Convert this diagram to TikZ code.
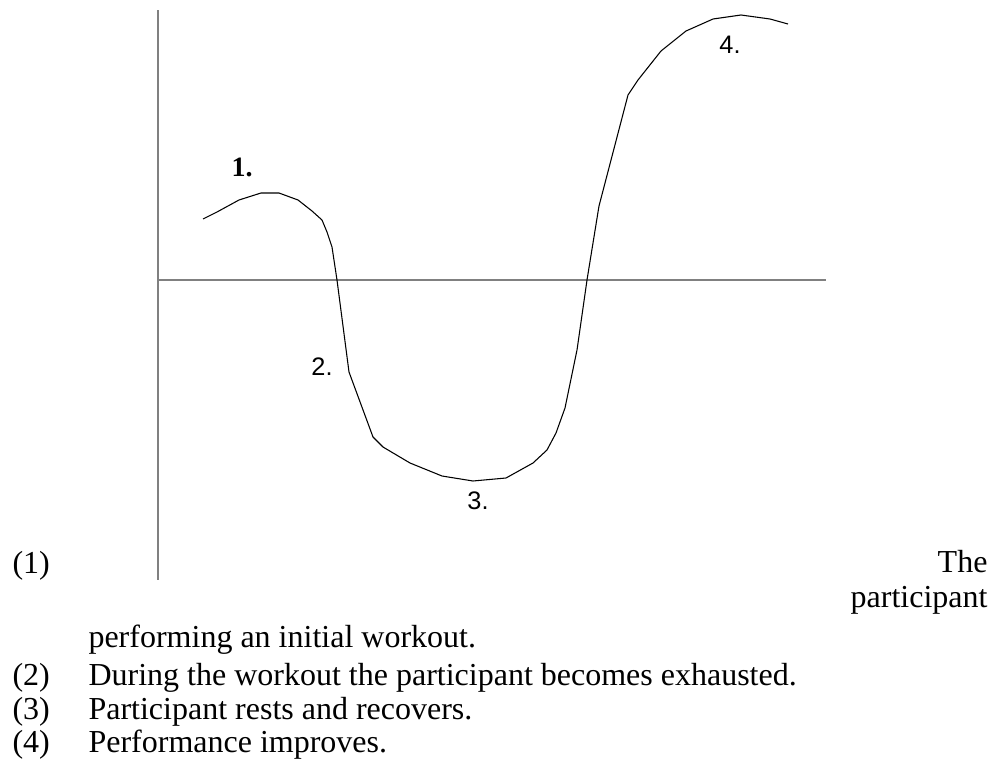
\documentclass[tikz,border=0pt]{standalone}
\usepackage{fontspec}
\setmainfont{Liberation Serif}
\newfontfamily\lblSans{Liberation Sans}
\usepackage{xcolor}
\usetikzlibrary{positioning}
\definecolor{cAxis}{HTML}{808080}
\definecolor{cCurve}{HTML}{000000}
\tikzset{
  axisLine/.style={draw=cAxis, line width=0.75pt},
  curveLine/.style={draw=cCurve, line width=0.4pt, line join=round},
  ptLabel/.style={font=\lblSans\fontsize{9.5}{11}\selectfont, inner sep=0pt},
  ptLabelSerif/.style={font=\bfseries\fontsize{10.5}{12}\selectfont, inner sep=0pt},
  itemNum/.style={font=\fontsize{12}{14}\selectfont, anchor=base west, inner sep=0pt},
  itemText/.style={font=\fontsize{12}{14}\selectfont, anchor=base west, inner sep=0pt},
  itemRight/.style={font=\fontsize{12}{14}\selectfont, anchor=base east, inner sep=0pt},
}

\begin{document}
\begin{tikzpicture}[x=0.375pt, y=-0.375pt]
\useasboundingbox (0,0) rectangle (1000,767);

% ========== AXES ==========
\coordinate (yTop) at (158,10);
\coordinate (yBot) at (158,580);
\coordinate (xLeft) at (157,280);
\coordinate (xRight) at (826,280);
\draw[axisLine] (yTop) -- (yBot);
\draw[axisLine] (xLeft) -- (xRight);

% ========== PERFORMANCE CURVE ==========
\draw[curveLine] plot coordinates {
  (203,219) (217,212) (239,200) (261,193) (279,193) (298,200) (312,211)
  (322,220) (327,232) (332,247) (337,280) (349,372) (373,437) (383,447)
  (410,463) (442,476) (473,481) (506,478) (533,463) (547,450) (556,433)
  (565,408) (577,350) (587,280) (599,206) (628,95) (638,80) (661,51)
  (686,31) (713,19) (741,15) (770,19) (788,24)};

\node[ptLabelSerif] (p1) at (242,167) {1.};
\node[ptLabel] (p2) at (322,367) {2.};
\node[ptLabel] (p3) at (478,501) {3.};
\node[ptLabel] (p4) at (730,45) {4.};

% ========== LEGEND ==========
\node[itemNum] (n1) at (12,573) {(1)};
\node[itemRight] (t1a) at (988,572) {The};
\node[itemRight] (t1b) at (988,607) {participant};
\node[itemText] (t1c) at (88,647) {performing an initial workout.};

\foreach \num/\y/\txt in {2/685/{During the workout the participant becomes exhausted.},
                          3/719/{Participant rests and recovers.},
                          4/752/{Performance improves.}} {
  \node[itemNum] (n\num) at (12,\y) {(\num)};
  \node[itemText] (t\num) at (88,\y) {\txt};
}

\end{tikzpicture}
\end{document}
